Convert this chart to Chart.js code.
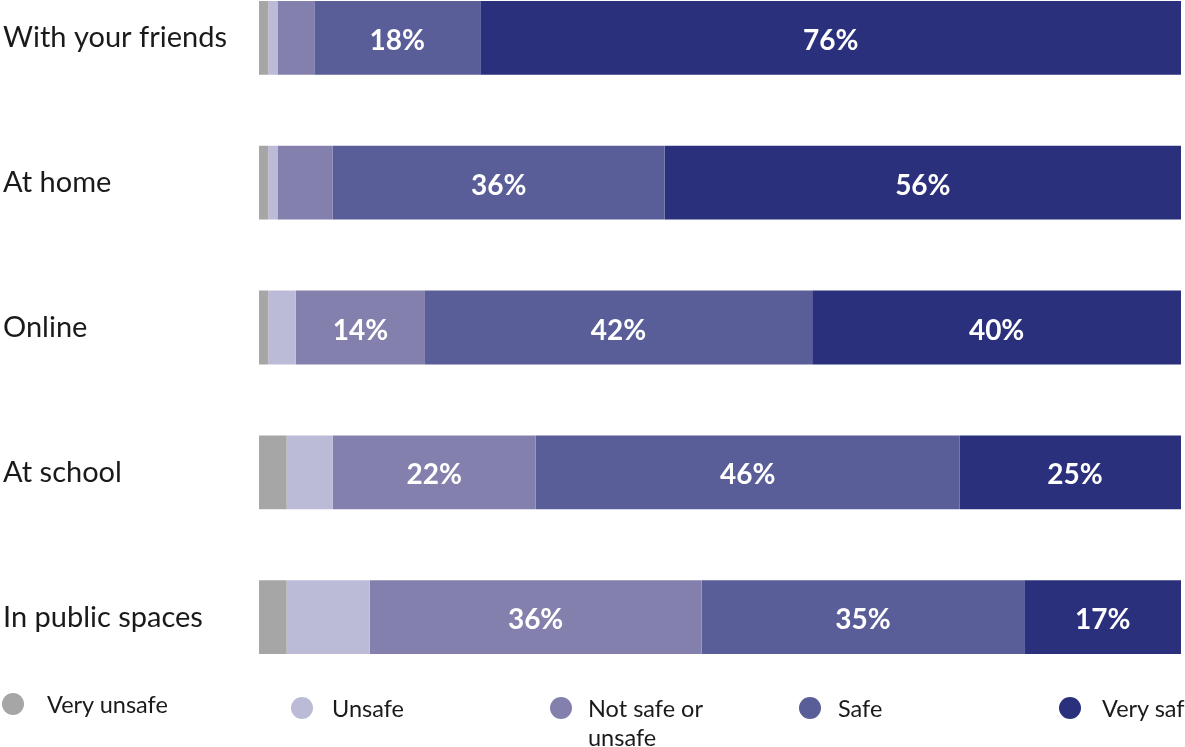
<!DOCTYPE html>
<html>
<head>
<meta charset="utf-8">
<script src="https://cdn.jsdelivr.net/npm/chart.js@4.4.0/dist/chart.umd.min.js"></script>
<style>
  html, body { margin: 0; padding: 0; background: #fff; }
  body { width: 1185px; height: 747px; overflow: hidden; position: relative; font-family: Lato, sans-serif; }
  /* the y labels add half a line of padding above and below the plot area */
  #wrap { position: absolute; left: 0; top: -52px; width: 1185px; height: 759px; }
  .key { position: absolute; color: #1a1a1a; font-size: 23.5px; line-height: 29px; white-space: nowrap; }
  .key .dot { position: absolute; width: 22px; height: 22px; border-radius: 50%; }
  .key .txt { position: absolute; }
</style>
</head>
<body>
<div id="wrap"><canvas id="safetyChart"></canvas></div>
<div id="legend"></div>

<script>
// places asked about, top to bottom
var places = ['With your friends', 'At home', 'Online', 'At school', 'In public spaces'];

// answer shares, % of respondents per place
var veryUnsafe   = [1, 1, 1, 3, 3];
var unsafe       = [1, 1, 3, 5, 9];
var notSafeOrNot = [4, 6, 14, 22, 36];
var safe         = [18, 36, 42, 46, 35];
var verySafe     = [76, 56, 40, 25, 17];

var answerNames = ['Very unsafe', 'Unsafe', 'Not safe or unsafe', 'Safe', 'Very safe'];
var answerColors = ['#a6a6a6', '#bbbbd8', '#8480ae', '#5a5e98', '#2b307c'];
var answerData = [veryUnsafe, unsafe, notSafeOrNot, safe, verySafe];

// write the % inside every segment wide enough to hold it
var barLabels = {
  id: 'barLabels',
  afterDatasetsDraw: function(chart) {
    var ctx = chart.ctx;
    ctx.save();
    ctx.font = 'bold 28px Lato';
    ctx.fillStyle = '#ffffff';
    ctx.textAlign = 'center';
    ctx.textBaseline = 'middle';
    chart.data.datasets.forEach(function(ds, i) {
      var meta = chart.getDatasetMeta(i);
      meta.data.forEach(function(bar, j) {
        var v = ds.data[j];
        if (v < 10) return;
        var cx = (bar.x + bar.base) / 2;
        ctx.fillText(v + '%', cx, bar.y + 3);
      });
    });
    ctx.restore();
  }
};

const ctx = document.getElementById('safetyChart').getContext('2d');
const safetyChart = new Chart(ctx, {
  type: 'bar',
  data: {
    labels: places,
    datasets: answerData.map(function(vals, i) {
      return {
        label: answerNames[i],
        data: vals,
        backgroundColor: answerColors[i],
        borderWidth: 0,
        barPercentage: 1,
        categoryPercentage: 0.51,
        clip: 0
      };
    })
  },
  options: {
    indexAxis: 'y',
    responsive: true,
    maintainAspectRatio: false,
    animation: false,
    layout: { padding: { left: 3, right: 4, top: 0, bottom: 0 } },
    plugins: {
      legend: { display: false },
      tooltip: { enabled: false }
    },
    scales: {
      x: {
        stacked: true,
        min: 0,
        max: 100,
        display: false
      },
      y: {
        stacked: true,
        grid: { display: false },
        border: { display: false },
        ticks: {
          crossAlign: 'far',
          padding: 0,
          color: '#1a1a1a',
          font: { family: 'Lato', size: 29 }
        },
        afterFit: function(axis) { axis.width = 256; }
      }
    }
  },
  plugins: [barLabels]
});

// legend along the bottom
var keySpots = [
  { dot: 13, txt: 47, y: 704, w: 200 },
  { dot: 302, txt: 332, y: 708, w: 200 },
  { dot: 561, txt: 588, y: 708, w: 135 },
  { dot: 810, txt: 838, y: 708, w: 200 },
  { dot: 1070, txt: 1102, y: 708, w: 200 }
];
var legendHtml = '';
answerNames.forEach(function(name, i) {
  var s = keySpots[i];
  legendHtml += '<div class="key" style="left:0;top:' + (s.y - 14.5) + 'px;">' +
    '<span class="dot" style="left:' + (s.dot - 11) + 'px;top:3.5px;background:' + answerColors[i] + ';"></span>' +
    '<span class="txt" style="left:' + s.txt + 'px;top:0;width:' + s.w + 'px;white-space:normal;">' + name + '</span>' +
    '</div>';
});
document.getElementById('legend').innerHTML = legendHtml;
</script>
</body>
</html>
